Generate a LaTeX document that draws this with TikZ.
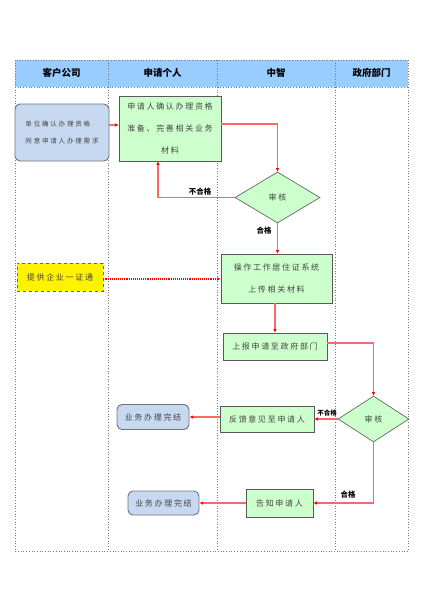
\documentclass[tikz,border=0pt]{standalone}
\usepackage{fontspec}
\usetikzlibrary{shapes.geometric,arrows.meta}
\newfontfamily\cjk{Noto Sans CJK SC}
\newfontfamily\cjksp[LetterSpace=21]{Noto Sans CJK SC}
\newfontfamily\cjkspb[LetterSpace=28]{Noto Sans CJK SC}
\definecolor{hdr}{HTML}{99CCFF}
\definecolor{bluebox}{HTML}{C6D9F1}
\definecolor{greenbox}{HTML}{CCFFCC}
\definecolor{lanegray}{HTML}{777777}
\definecolor{txt}{HTML}{444444}
\definecolor{arr}{HTML}{FF6666}
\tikzset{
  lane/.style={draw=lanegray, dotted, line width=0.7pt},
  hdrtext/.style={font=\cjk\fontsize{9.5}{11}\selectfont\bfseries, text=black},
  greenbox/.style={draw=black!65, fill=greenbox, line width=0.8pt, inner sep=0pt,
    font=\cjksp\fontsize{8}{22}\selectfont, text=txt, align=center},
  bluebox/.style={draw=black!55, fill=bluebox, line width=0.9pt, rounded corners=5pt, inner sep=0pt,
    font=\cjksp\fontsize{8}{17}\selectfont, text=txt, align=center},
  decision/.style={diamond, draw=black!60, fill=greenbox, line width=0.7pt, inner sep=0pt,
    font=\cjksp\fontsize{8}{9}\selectfont, text=txt},
  flow/.style={draw=arr, line width=1.2pt, -{Latex[length=3.5pt,width=3.5pt,color=red]}},
  lbl/.style={font=\cjk\fontsize{7.5}{9}\selectfont\bfseries, text=black, inner sep=1pt},
}
\begin{document}
\begin{tikzpicture}[x=1pt,y=-1pt]
\useasboundingbox (0,0) rectangle (424,600);
% header and lanes
\fill[hdr] (15,60) rectangle (408,87);
\draw[lane] (15,60) rectangle (408,551);
\draw[lane] (15,87) -- (408,87);
\draw[lane] (108,60) -- (108,551);
\draw[lane] (217,60) -- (217,551);
\draw[lane] (335,60) -- (335,551);
\node[hdrtext] (h1) at (61.5,72.5) {客户公司};
\node[hdrtext] (h2) at (162.5,72.5) {申请个人};
\node[hdrtext] (h3) at (276,72.5) {中智};
\node[hdrtext] (h4) at (371.5,72.5) {政府部门};
% nodes
\node[bluebox, minimum width=94, minimum height=57, align=left,
  font=\cjkspb\fontsize{6.5}{17}\selectfont] (n1) at (62,132.5) {单位确认办理资格\\同意申请人办理需求};
\node[greenbox, minimum width=102, minimum height=65] (n2) at (170,128.5) {申请人确认办理资格\\准备、完善相关业务\\材料};
\node[decision, minimum width=85, minimum height=51] (d1) at (277.5,197.5) {审核};
\node[greenbox, minimum width=111, minimum height=49] (n4) at (276.5,278.5) {操作工作居住证系统\\上传相关材料};
\node[draw=black!60, dashed, fill=yellow, line width=0.7pt, minimum width=86, minimum height=28, inner sep=0pt,
  font=\cjksp\fontsize{8}{9}\selectfont, text=txt] (y) at (60,277) {提供企业一证通};
\node[greenbox, minimum width=104, minimum height=27] (n6) at (275,346.5) {上报申请至政府部门};
\node[decision, minimum width=71, minimum height=46] (d2) at (373.5,419) {审核};
\node[greenbox, minimum width=94, minimum height=26] (n8) at (267,419) {反馈意见至申请人};
\node[bluebox, minimum width=72, minimum height=25] (n9) at (153,417) {业务办理完结};
\node[greenbox, minimum width=67, minimum height=28] (n10) at (279.5,503) {告知申请人};
\node[bluebox, minimum width=71, minimum height=24] (n11) at (163.5,503) {业务办理完结};
% connectors
\draw[flow] (n1.east |- 0,125) -- (n2.west |- 0,125);
\draw[flow] (n2.east |- 0,124) -| (d1.north);
\draw[flow] (d1.west) -| (n2.south -| 158,0);
\node[lbl] (l1) at (200,192) {不合格};
\draw[flow] (d1.south) -- (n4.north -| d1.south);
\node[lbl] (l2) at (264,231) {合格};
\draw[draw=red, line width=1.1pt, densely dotted, -{Latex[length=3.5pt,width=3.5pt,color=red]}] (y.east |- 0,279) -- (n4.west |- 0,279);
\draw[flow] (n6.north |- n4.south) -- (n6.north);
\draw[flow] (n6.east |- 0,343) -| (d2.north);
\draw[flow] (d2.west) -- (n8.east);
\node[lbl, font=\cjk\fontsize{6.5}{8}\selectfont\bfseries] (l3) at (327,413) {不合格};
\draw[flow] (n8.west |- 0,417) -- (n9.east);
\draw[flow] (d2.south) |- (n10.east);
\node[lbl] (l4) at (348,495) {合格};
\draw[flow] (n10.west) -- (n11.east);
\end{tikzpicture}
\end{document}
